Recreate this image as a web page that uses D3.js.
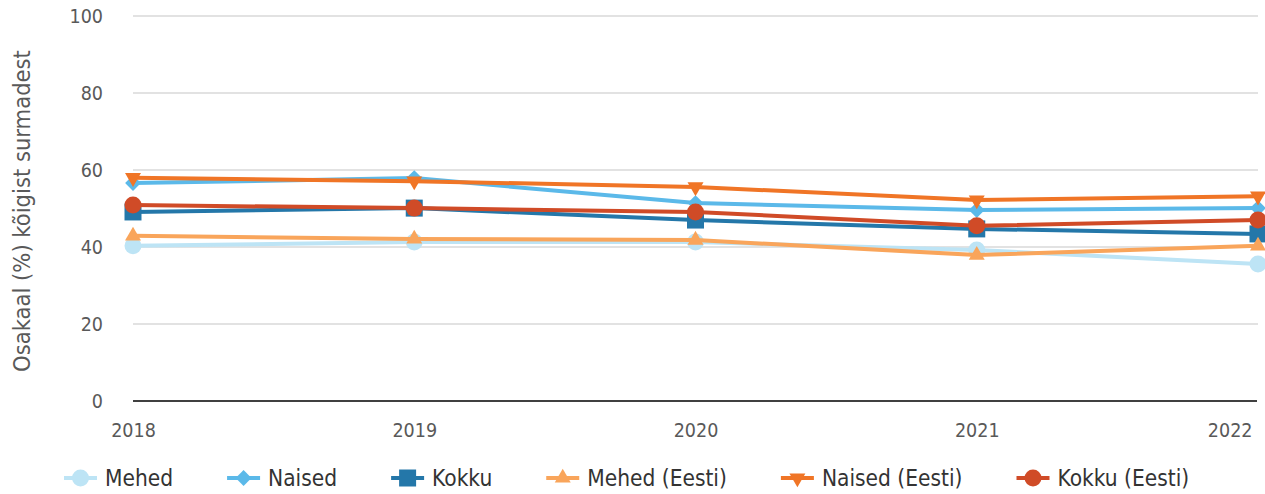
<!DOCTYPE html>
<html>
<head>
<meta charset="utf-8">
<script src="https://cdn.jsdelivr.net/npm/d3@7"></script>
<style>
  body { margin: 0; background: #fff; }
  text { font-family: "DejaVu Sans Condensed", "DejaVu Sans", sans-serif; }
</style>
</head>
<body>
<div id="chart"></div>
<script>
const years = ["2018", "2019", "2020", "2021", "2022"]
const yTicks = [0, 20, 40, 60, 80, 100]
const seriesNames = ["Mehed", "Naised", "Kokku", "Mehed (Eesti)", "Naised (Eesti)", "Kokku (Eesti)"]
const mehed = [40.3, 41.3, 41.3, 39.2, 35.6]
const naised = [56.6, 57.9, 51.4, 49.6, 50.1]
const kokku = [49.1, 50.1, 47.0, 44.7, 43.4]
const mehedEesti = [42.9, 42.1, 41.8, 37.9, 40.3]
const naisedEesti = [58.0, 57.1, 55.6, 52.2, 53.2]
const kokkuEesti = [50.9, 50.1, 49.1, 45.5, 47.0]
const colors = ["#bde4f5", "#5bb9e9", "#2477a9", "#f9a55b", "#f07526", "#d04b27"]

const seriesValues = [mehed, naised, kokku, mehedEesti, naisedEesti, kokkuEesti]
const symbols = [
  { type: d3.symbolCircle, size: 227, rot: 0 },
  { type: d3.symbolSquare, size: 125, rot: 45 },
  { type: d3.symbolSquare, size: 289, rot: 0 },
  { type: d3.symbolTriangle, size: 110, rot: 0 },
  { type: d3.symbolTriangle, size: 110, rot: 180 },
  { type: d3.symbolCircle, size: 227, rot: 0 }
]

const width = 1265, height = 494
const svg = d3.select("#chart").append("svg")
  .attr("width", width).attr("height", height)

const x = d3.scalePoint().domain(years).range([133, 1258])
const y = d3.scaleLinear().domain([0, 100]).range([401, 16])

// grid
svg.append("g").selectAll("line")
  .data(yTicks.filter(d => d > 0))
  .join("line")
  .attr("x1", 133).attr("x2", 1258)
  .attr("y1", d => y(d)).attr("y2", d => y(d))
  .attr("stroke", "#d9d9d9").attr("stroke-width", 1.5)

// y labels
const yAxis = svg.append("g").attr("transform", "translate(103,0)")
  .call(d3.axisLeft(y).tickValues(yTicks).tickSize(0).tickPadding(0))
yAxis.select(".domain").remove()
yAxis.selectAll("text").attr("font-size", 19.5).attr("fill", "#595959")
  .attr("font-family", "DejaVu Sans Condensed, sans-serif")

// x axis
const xAxis = svg.append("g").attr("transform", `translate(0,${y(0)})`)
  .call(d3.axisBottom(x).tickSize(0).tickPadding(22))
xAxis.select(".domain").attr("stroke", "#000").attr("stroke-width", 1.5)
  .attr("d", `M133,0H1257`)
xAxis.selectAll("text").attr("font-size", 19.5).attr("fill", "#595959")
  .attr("font-family", "DejaVu Sans Condensed, sans-serif")
  .attr("text-anchor", (d, i) => i === years.length - 1 ? "end" : "middle")
  .attr("dx", (d, i) => i === years.length - 1 ? "-6" : "0")

// y title
svg.append("text")
  .attr("transform", "translate(30,211) rotate(-90)")
  .attr("text-anchor", "middle")
  .attr("font-size", 23.5).attr("fill", "#595959")
  .text("Osakaal (%) kõigist surmadest")

const line = d3.line().x((d, i) => x(years[i])).y(d => y(d))

seriesValues.forEach((vals, s) => {
  const g = svg.append("g")
  g.append("path").datum(vals)
    .attr("d", line)
    .attr("fill", "none")
    .attr("stroke", colors[s]).attr("stroke-width", 4)
    .attr("stroke-linejoin", "round")
  const sym = d3.symbol().type(symbols[s].type).size(symbols[s].size)
  g.selectAll("path.m").data(vals).join("path").attr("class", "m")
    .attr("d", sym)
    .attr("transform", (d, i) => `translate(${x(years[i])},${y(d)}) rotate(${symbols[s].rot})`)
    .attr("fill", colors[s])
})

// legend
const legend = svg.append("g").attr("transform", "translate(0,478)")
let lx = 64
seriesNames.forEach((name, s) => {
  const item = legend.append("g").attr("transform", `translate(${lx},0)`)
  item.append("line").attr("x1", 0).attr("x2", 33)
    .attr("stroke", colors[s]).attr("stroke-width", 4)
  item.append("path")
    .attr("d", d3.symbol().type(symbols[s].type).size(symbols[s].size))
    .attr("transform", `translate(16.5,0) rotate(${symbols[s].rot})`)
    .attr("fill", colors[s])
  const t = item.append("text").attr("x", 41).attr("dy", "0.36em")
    .attr("font-size", 22.5).attr("fill", "#333")
    .text(name)
  lx += 41 + t.node().getComputedTextLength() + 54
})
</script>
</body>
</html>
